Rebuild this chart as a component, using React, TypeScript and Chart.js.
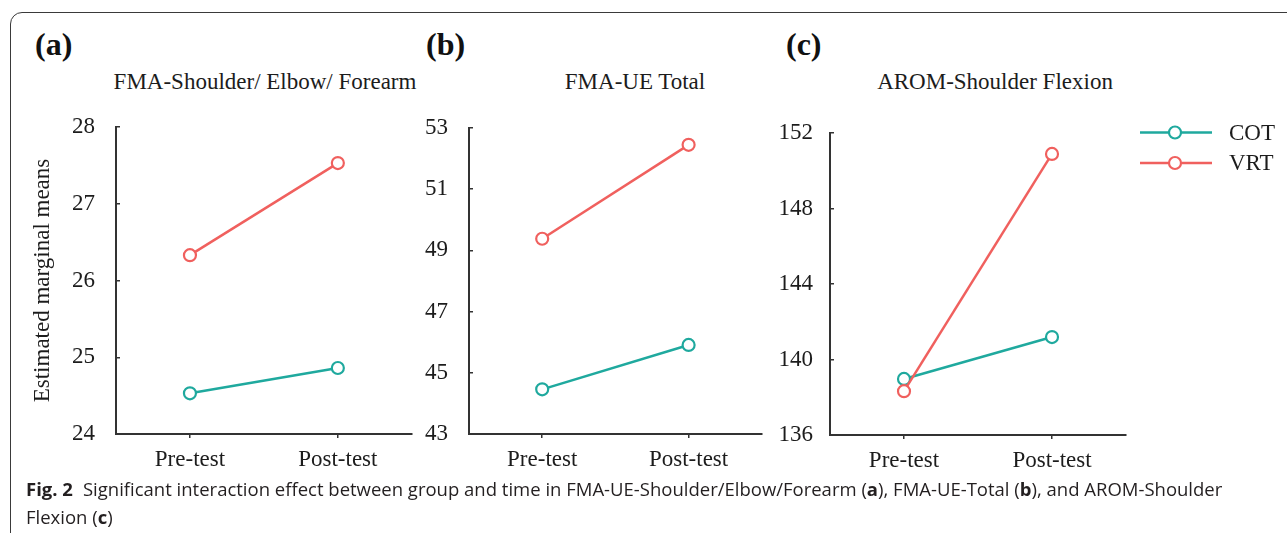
import React, { useEffect, useRef } from "react";
import { Chart, registerables } from "chart.js";

Chart.register(...registerables);

// ---------- data ----------
const timePoints: string[] = ["Pre-test", "Post-test"];
const groupNames: string[] = ["COT", "VRT"];

const cotShoulderElbowForearm: number[] = [24.53, 24.86];
const vrtShoulderElbowForearm: number[] = [26.33, 27.53];

const cotUeTotal: number[] = [44.46, 45.91];
const vrtUeTotal: number[] = [49.38, 52.45];

const cotShoulderFlexion: number[] = [138.97, 141.19];
const vrtShoulderFlexion: number[] = [138.32, 150.89];

const ticksShoulderElbowForearm: number[] = [24, 25, 26, 27, 28];
const ticksUeTotal: number[] = [43, 45, 47, 49, 51, 53];
const ticksShoulderFlexion: number[] = [136, 140, 144, 148, 152];

const panelLetters: string[] = ["(a)", "(b)", "(c)"];
const panelTitles: string[] = [
  "FMA-Shoulder/ Elbow/ Forearm",
  "FMA-UE Total",
  "AROM-Shoulder Flexion",
];
const yAxisTitle = "Estimated marginal means";

// ---------- styles ----------
const TEAL = "#1fa99e";
const RED = "#f0605e";
const AXIS = "#333333";
const TEXT = "#1c1c1c";
const SERIF = "'Liberation Serif', 'Times New Roman', serif";
const FONT_SIZE = 23;

const sideLegendPlugin = {
  id: "sideLegend",
  afterDraw(chart: any, _args: any, opts: any) {
    if (!opts || !opts.display) return;
    const ctx = chart.ctx as CanvasRenderingContext2D;
    ctx.save();
    chart.data.datasets.forEach((ds: any, i: number) => {
      const y = opts.y + i * opts.rowGap;
      ctx.strokeStyle = ds.borderColor;
      ctx.lineWidth = ds.borderWidth;
      ctx.beginPath();
      ctx.moveTo(opts.x1, y);
      ctx.lineTo(opts.x2, y);
      ctx.stroke();
      ctx.beginPath();
      ctx.arc(opts.cx, y, ds.pointRadius, 0, Math.PI * 2);
      ctx.fillStyle = "#ffffff";
      ctx.fill();
      ctx.lineWidth = ds.pointBorderWidth;
      ctx.stroke();
      ctx.fillStyle = opts.color;
      ctx.font = opts.font;
      ctx.textBaseline = "middle";
      ctx.textAlign = "left";
      ctx.fillText(ds.label, opts.textX, y + 1);
    });
    ctx.restore();
  },
};

type PanelCfg = {
  left: number;
  top: number;
  w: number;
  h: number;
  padTop: number;
  padRight: number;
  yWidth: number;
  xHeight: number;
  yPad: number;
  cot: number[];
  vrt: number[];
  ticks: number[];
  showTitle: boolean;
  legend: boolean;
};

const panels: PanelCfg[] = [
  {
    left: 25, top: 60, w: 395, h: 420, padTop: 67, padRight: 6, yWidth: 91, xHeight: 46, yPad: 25,
    cot: cotShoulderElbowForearm, vrt: vrtShoulderElbowForearm, ticks: ticksShoulderElbowForearm,
    showTitle: true, legend: false,
  },
  {
    left: 420, top: 60, w: 350, h: 420, padTop: 68, padRight: 4, yWidth: 49, xHeight: 46, yPad: 25,
    cot: cotUeTotal, vrt: vrtUeTotal, ticks: ticksUeTotal,
    showTitle: false, legend: false,
  },
  {
    left: 772, top: 60, w: 515, h: 420, padTop: 73, padRight: 161, yWidth: 58, xHeight: 45, yPad: 21,
    cot: cotShoulderFlexion, vrt: vrtShoulderFlexion, ticks: ticksShoulderFlexion,
    showTitle: false, legend: true,
  },
];

function Panel({ cfg }: { cfg: PanelCfg }) {
  const ref = useRef<HTMLCanvasElement>(null);
  useEffect(() => {
    const canvas = ref.current;
    if (!canvas) return;
    const tickFont = { family: SERIF, size: FONT_SIZE };
    const mkDs = (label: string, data: number[], color: string, order: number) => ({
      label,
      data,
      borderColor: color,
      backgroundColor: "#ffffff",
      pointBorderColor: color,
      pointBackgroundColor: "#ffffff",
      borderWidth: 2.5,
      pointRadius: 6,
      pointBorderWidth: 2.2,
      pointHoverRadius: 6,
      tension: 0,
      order,
    });
    const chart = new Chart(canvas, {
      type: "line",
      data: {
        labels: timePoints,
        datasets: [
          mkDs(groupNames[0], cfg.cot, TEAL, 1),
          mkDs(groupNames[1], cfg.vrt, RED, 0),
        ],
      },
      options: {
        responsive: false,
        animation: false,
        events: [],
        layout: { padding: { top: cfg.padTop, right: cfg.padRight, left: 0, bottom: 0 } },
        plugins: {
          legend: { display: false },
          tooltip: { enabled: false },
          sideLegend: {
            display: cfg.legend,
            x1: 368,
            x2: 440,
            cx: 403,
            y: 72.5,
            rowGap: 30.5,
            textX: 457,
            color: TEXT,
            font: `${FONT_SIZE}px ${SERIF}`,
          },
        } as any,
        scales: {
          x: {
            type: "category",
            offset: true,
            grid: {
              display: true,
              drawOnChartArea: false,
              drawTicks: true,
              tickLength: 4,
              color: AXIS,
              lineWidth: 1.5,
            },
            border: { display: true, color: AXIS, width: 2 },
            ticks: { padding: 8, color: TEXT, font: tickFont, maxRotation: 0 },
            afterFit: (s: any) => {
              s.height = cfg.xHeight;
            },
          },
          y: {
            type: "linear",
            min: cfg.ticks[0],
            max: cfg.ticks[cfg.ticks.length - 1],
            afterBuildTicks: (s: any) => {
              s.ticks = cfg.ticks.map((v) => ({ value: v }));
            },
            grid: {
              display: true,
              drawOnChartArea: false,
              drawTicks: true,
              tickLength: -4,
              color: AXIS,
              lineWidth: 1.5,
            },
            border: { display: true, color: AXIS, width: 2 },
            ticks: { padding: cfg.yPad, color: TEXT, font: tickFont },
            title: {
              display: cfg.showTitle,
              text: yAxisTitle,
              color: TEXT,
              font: { family: SERIF, size: FONT_SIZE },
              padding: { top: 4, bottom: 0 },
            },
            afterFit: (s: any) => {
              s.width = cfg.yWidth;
            },
          },
        },
      } as any,
      plugins: [sideLegendPlugin as any],
    });
    return () => chart.destroy();
  }, [cfg]);
  return (
    <canvas
      ref={ref}
      width={cfg.w}
      height={cfg.h}
      style={{ position: "absolute", left: cfg.left, top: cfg.top, width: cfg.w, height: cfg.h }}
    />
  );
}

const letterLefts = [35, 426, 786];
const titleCenters = [265, 635, 995];

export default function App() {
  return (
    <div
      style={{
        position: "absolute",
        left: 0,
        top: 0,
        width: 1287,
        height: 533,
        overflow: "hidden",
        background: "#ffffff",
      }}
    >
      <div
        style={{
          position: "absolute",
          left: 10,
          top: 12,
          width: 1400,
          height: 700,
          border: "1.5px solid #3a3a3a",
          borderRadius: 12,
          boxSizing: "border-box",
        }}
      />
      {panelLetters.map((t, i) => (
        <div
          key={t}
          style={{
            position: "absolute",
            left: letterLefts[i],
            top: 28,
            fontFamily: SERIF,
            fontWeight: "bold",
            fontSize: 32,
            lineHeight: "32px",
            color: "#111",
            whiteSpace: "nowrap",
          }}
        >
          {t}
        </div>
      ))}
      {panelTitles.map((t, i) => (
        <div
          key={t}
          style={{
            position: "absolute",
            left: titleCenters[i] - 200,
            width: 400,
            top: 70,
            textAlign: "center",
            fontFamily: SERIF,
            fontSize: FONT_SIZE,
            lineHeight: `${FONT_SIZE}px`,
            color: TEXT,
            whiteSpace: "nowrap",
          }}
        >
          {t}
        </div>
      ))}
      {panels.map((p, i) => (
        <Panel key={i} cfg={p} />
      ))}
      <div
        style={{
          position: "absolute",
          left: 26,
          top: 475,
          fontFamily: "'Open Sans', 'Noto Sans', sans-serif",
          fontSize: 18.5,
          lineHeight: "28px",
          color: "#231f20",
          whiteSpace: "nowrap",
        }}
      >
        <div>
          <b>Fig. 2</b>
          <span style={{ marginLeft: 10 }}>
            Significant interaction effect between group and time in FMA-UE-Shoulder/Elbow/Forearm (<b>a</b>),
            FMA-UE-Total (<b>b</b>), and AROM-Shoulder
          </span>
        </div>
        <div>
          Flexion (<b>c</b>)
        </div>
      </div>
    </div>
  );
}
